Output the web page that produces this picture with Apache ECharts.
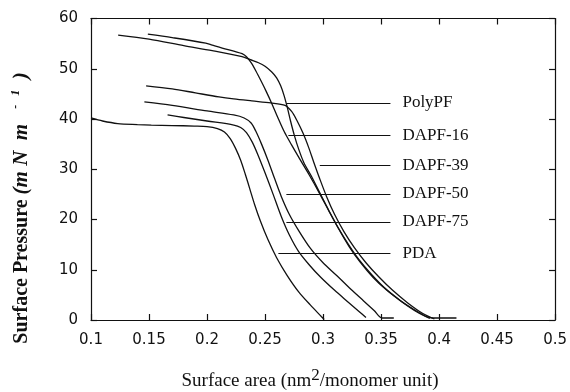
<!DOCTYPE html>
<html>
<head>
<meta charset="utf-8">
<script src="https://cdn.jsdelivr.net/npm/echarts@6/dist/echarts.min.js"></script>
<style>html,body{margin:0;padding:0;background:#fff}#c{width:570px;height:392px}</style>
</head>
<body>
<div id="c"></div>
<script>
const xTicks = {min: 0.1, max: 0.5, interval: 0.05};
const yTicks = {min: 0, max: 60, interval: 10};

const seriesNames = ['PolyPF', 'DAPF-16', 'DAPF-39', 'DAPF-50', 'DAPF-75', 'PDA'];

const polyPF = [[0.1475,46.6],[0.17,46.0],[0.19,45.2],[0.2103,44.4],[0.223,44.0],[0.2387,43.6],[0.255,43.2],[0.2673,42.7],[0.2729,41.5],[0.2775,39.7],[0.2829,37.1],[0.2875,34.4],[0.292,31.4],[0.297,28.2],[0.303,24.6],[0.310,21.0],[0.318,17.6],[0.327,14.4],[0.337,11.4],[0.348,8.6],[0.360,5.9],[0.373,3.4],[0.386,1.3],[0.396,0.2]];
const dapf16 = [[0.149,56.9],[0.17,56.2],[0.1989,55.1],[0.2045,54.7],[0.2131,54.1],[0.2245,53.4],[0.2302,53.0],[0.234,52.4],[0.238,51.2],[0.242,49.6],[0.2465,47.6],[0.251,45.5],[0.2558,43.1],[0.261,40.3],[0.2665,37.5],[0.273,34.8],[0.280,32.0],[0.288,28.9],[0.2965,25.4],[0.305,21.7],[0.3135,18.1],[0.3225,14.6],[0.332,11.5],[0.343,8.5],[0.355,5.9],[0.368,3.6],[0.381,1.6],[0.392,0.3]];
const dapf39 = [[0.1234,56.7],[0.15,55.9],[0.18,54.6],[0.2045,53.6],[0.2302,52.4],[0.2373,51.8],[0.2444,51.2],[0.250,50.5],[0.2556,49.4],[0.260,48.2],[0.2635,46.6],[0.2665,44.6],[0.2693,42.2],[0.272,39.6],[0.2752,36.8],[0.279,34.0],[0.2835,31.3],[0.290,28.6],[0.297,25.4],[0.305,21.8],[0.313,18.4],[0.322,15.0],[0.331,12.0],[0.342,9.0],[0.353,6.4],[0.366,4.0],[0.379,2.0],[0.389,0.7],[0.395,0.4],[0.415,0.4]];
const dapf50 = [[0.146,43.4],[0.17,42.7],[0.20,41.6],[0.223,40.8],[0.232,40.2],[0.238,39.2],[0.242,37.6],[0.247,35.0],[0.2525,31.8],[0.258,28.3],[0.264,24.6],[0.271,21.0],[0.279,17.8],[0.289,14.3],[0.300,11.4],[0.312,8.8],[0.324,6.1],[0.335,3.8],[0.344,1.9],[0.351,0.4],[0.361,0.4]];
const dapf75 = [[0.166,40.8],[0.18,40.3],[0.20,39.6],[0.2231,38.8],[0.229,38.3],[0.234,37.3],[0.239,35.4],[0.244,32.8],[0.250,29.3],[0.257,25.0],[0.264,20.6],[0.271,16.9],[0.279,13.6],[0.288,11.0],[0.298,8.5],[0.310,5.9],[0.322,3.5],[0.331,1.7],[0.337,0.5]];
const pda = [[0.100,40.2],[0.110,39.6],[0.123,39.1],[0.140,38.9],[0.152,38.8],[0.170,38.7],[0.189,38.6],[0.200,38.5],[0.209,38.1],[0.215,37.4],[0.220,36.1],[0.2245,34.2],[0.229,31.8],[0.233,29.0],[0.237,26.0],[0.241,23.0],[0.246,19.7],[0.2525,16.0],[0.260,12.4],[0.269,8.9],[0.279,5.6],[0.289,3.0],[0.2985,0.7],[0.301,0.1]];
const curves = [polyPF, dapf16, dapf39, dapf50, dapf75, pda];

const labelY = [43.2, 36.8, 30.8, 25.1, 19.5, 13.3];
const labelXStart = [0.2684, 0.2701, 0.2972, 0.2684, 0.2684, 0.2615];
const labelXEnd = 0.3581;

const INK = '#111';
const chart = echarts.init(document.getElementById('c'), null, {renderer: 'canvas'});

const lineSeries = curves.map((d, i) => ({
  name: seriesNames[i], type: 'line', data: d, showSymbol: false, smooth: 0.3,
  xAxisIndex: 0, yAxisIndex: 0, silent: true,
  lineStyle: {color: INK, width: 1.3}, z: 3
}));

const markData = seriesNames.map((n, i) => [
  {name: n, coord: [labelXStart[i], labelY[i]]},
  {coord: [labelXEnd, labelY[i]]}
]);

lineSeries.push({
  type: 'line', data: [], xAxisIndex: 0, yAxisIndex: 0, silent: true,
  markLine: {
    silent: true, symbol: ['none', 'none'], animation: false,
    lineStyle: {color: INK, width: 1.2, type: 'solid'},
    label: {show: true, position: 'end', formatter: '{b}', distance: 12,
      fontFamily: 'Liberation Serif', fontSize: 17, color: INK},
    emphasis: {disabled: true},
    data: markData
  }
});

const axisCommon = {
  type: 'value', splitLine: {show: false},
  axisLine: {show: true, onZero: false, lineStyle: {color: INK, width: 1.2}},
  axisTick: {show: true, inside: true, length: 6, lineStyle: {color: INK, width: 1.2}}
};
const labelStyle = {fontFamily: 'DejaVu Sans', fontSize: 15, color: INK};

chart.setOption({
  animation: false,
  backgroundColor: '#fff',
  grid: {left: 91, right: 11, top: 18.5, bottom: 72},
  xAxis: [
    Object.assign({}, axisCommon, xTicks, {position: 'bottom',
      axisLabel: Object.assign({margin: 13}, labelStyle)}),
    Object.assign({}, axisCommon, xTicks, {position: 'top', axisLabel: {show: false}})
  ],
  yAxis: [
    Object.assign({}, axisCommon, yTicks, {position: 'left',
      axisLabel: Object.assign({margin: 13}, labelStyle)}),
    Object.assign({}, axisCommon, yTicks, {position: 'right', axisLabel: {show: false}})
  ],
  graphic: [
    {type: 'text', x: 310, y: 381, silent: true,
      style: {text: 'Surface area (nm{sup|2}/monomer unit)', align: 'center', verticalAlign: 'middle',
        fontFamily: 'Liberation Serif', fontSize: 19, fill: INK,
        rich: {sup: {fontFamily: 'Liberation Serif', fontSize: 17, padding: [0, 0, 10, 0]}}}},
    {type: 'text', x: 22, y: 208, rotation: Math.PI / 2, silent: true,
      style: {text: 'Surface Pressure {it|(m N  m}   {sup|-   1}{it|  )}', align: 'center', verticalAlign: 'middle',
        fontFamily: 'Liberation Serif', fontWeight: 'bold', fontSize: 20, fill: INK,
        rich: {
          it: {fontFamily: 'Liberation Serif', fontWeight: 'bold', fontStyle: 'italic', fontSize: 21},
          sup: {fontFamily: 'Liberation Serif', fontWeight: 'bold', fontStyle: 'italic', fontSize: 12, padding: [0, 0, 12, 0]}
        }}}
  ],
  series: lineSeries
});
</script>
</body>
</html>
